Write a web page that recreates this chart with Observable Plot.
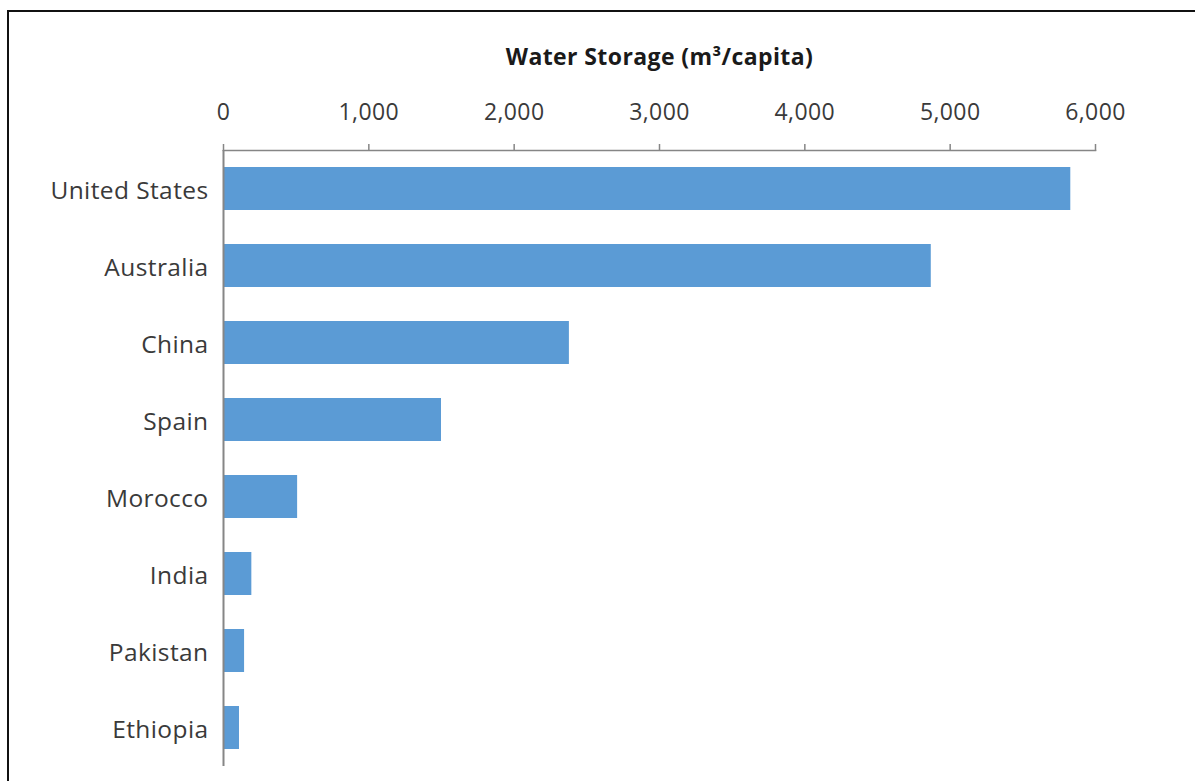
<!DOCTYPE html>
<html>
<head>
<meta charset="utf-8">
<script src="https://cdn.jsdelivr.net/npm/d3@7"></script>
<script src="https://cdn.jsdelivr.net/npm/@observablehq/plot@0.6"></script>
<style>
  html, body { margin: 0; padding: 0; background: #fff; overflow: hidden; }
  #wrap { position: relative; width: 1195px; height: 781px; }
  #frame { position: absolute; left: 7px; top: 10px; width: 1200px; height: 800px;
           border-top: 2px solid #111; border-left: 2px solid #111; pointer-events: none; }
  #chart { position: absolute; left: 0; top: 0; }
</style>
</head>
<body>
<div id="wrap"><div id="chart"></div><div id="frame"></div></div>
<script>
const countries = ["United States", "Australia", "China", "Spain", "Morocco", "India", "Pakistan", "Ethiopia"];
const storage = [5830, 4870, 2380, 1500, 510, 195, 145, 110];
const xTicks = [0, 1000, 2000, 3000, 4000, 5000, 6000];
const title = "Water Storage (m³/capita)";

const data = countries.map((c, i) => ({country: c, value: storage[i]}));

const chart = Plot.plot({
  width: 1195,
  height: 781,
  marginLeft: 223,
  marginRight: 100,
  marginTop: 150,
  marginBottom: 15,
  style: {fontFamily: "'Open Sans', sans-serif", fontSize: "23px", color: "#3a3a3a", background: "transparent", letterSpacing: "0.4px"},
  x: {domain: [0, 6000]},
  y: {domain: countries, paddingInner: 0.44, paddingOuter: 0.22},
  marks: [
    Plot.barX(data, {y: "country", x: "value", fill: "#5B9BD5"}),
    Plot.frame({anchor: "top", stroke: "#868686", strokeWidth: 1.5}),
    Plot.ruleX([0], {stroke: "#868686", strokeWidth: 2}),
    Plot.axisX({anchor: "top", ticks: xTicks, tickFormat: d3.format(","), tickSize: 7, tickPadding: 24,
                stroke: "#868686", strokeWidth: 1.5, label: null, fill: "#3a3a3a"}),
    Plot.axisY({anchor: "left", tickSize: 0, tickPadding: 15, label: null, fill: "#3a3a3a", fontSize: 24.5, dy: 2}),
    Plot.text([title], {frameAnchor: "top", dy: -93, lineAnchor: "middle", fontWeight: "bold", fontSize: 23, fill: "#1a1a1a"})
  ]
});
document.getElementById("chart").appendChild(chart);
</script>
</body>
</html>
